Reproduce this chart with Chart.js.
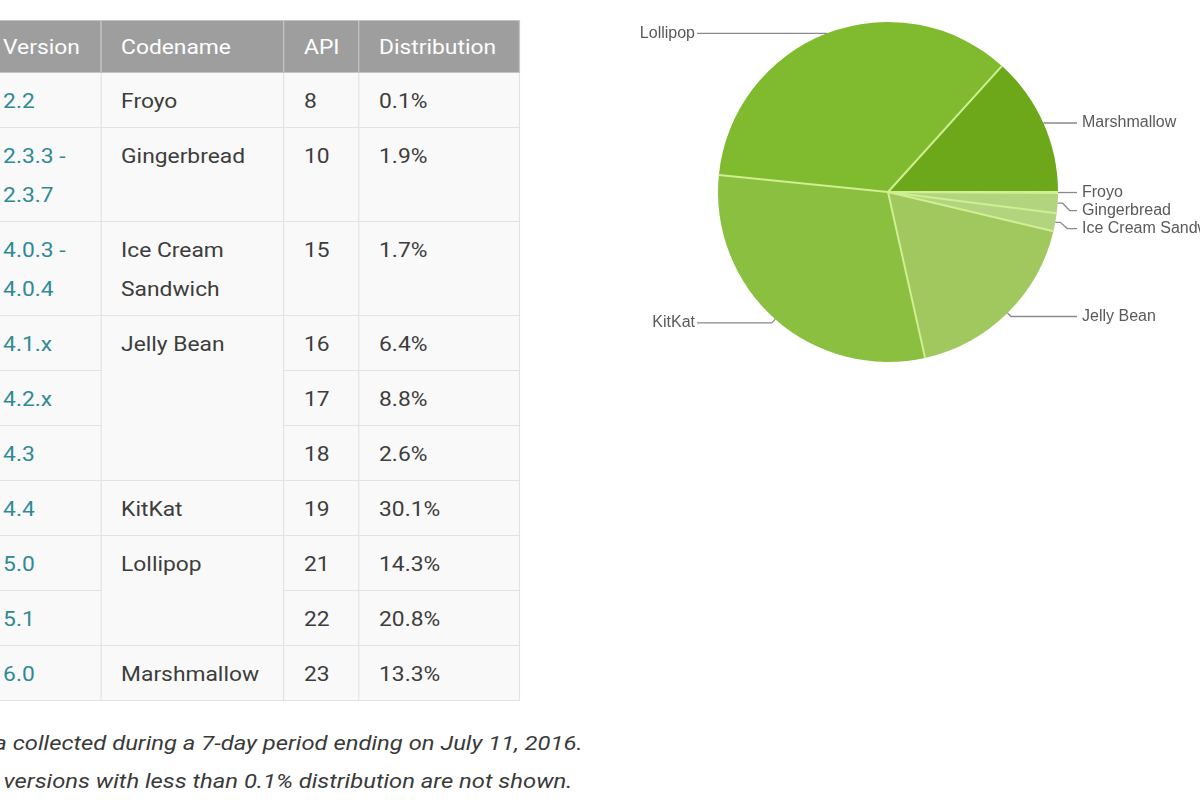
<!DOCTYPE html>
<html>
<head>
<meta charset="utf-8">
<script src="https://cdn.jsdelivr.net/npm/chart.js@4.4.1/dist/chart.umd.min.js"></script>
<style>
    html, body {
        margin: 0;
        padding: 0;
        width: 1200px;
        height: 800px;
        overflow: hidden;
        background: #ffffff;
        font-family: Roboto, "Noto Sans", sans-serif;
    }

    #tabela-wrap {
        position: absolute;
        left: -18px;
        top: 20px;
        transform: scaleX(1.14);
        transform-origin: left top;
    }

    table {
        border-collapse: collapse;
        font-size: 20px;
        color: #3d3d3d;
        table-layout: fixed;
    }

    th {
        background: #9e9e9e;
        color: #ffffff;
        font-weight: 400;
        text-align: left;
        padding: 7px 8px 5px 17.5px;
        line-height: 39px;
        border: 1px solid #c4c4c4;
    }

    td {
        background: #f9f9f9;
        padding: 8.5px 8px 6.5px 17.5px;
        line-height: 39px;
        vertical-align: top;
        border: 1px solid #e2e2e2;
    }

    td.versao {
        color: #2f8a96;
    }

    #nota {
        position: absolute;
        left: -41px;
        top: 724px;
        font-size: 20px;
        font-style: italic;
        line-height: 38px;
        color: #3a3a3a;
        transform: scaleX(1.19);
        transform-origin: left top;
        white-space: nowrap;
    }

    #grafico-wrap {
        position: absolute;
        left: 600px;
        top: 0;
        width: 600px;
        height: 400px;
    }
</style>
</head>
<body>

<div id="tabela-wrap">
    <table id="tabela-versoes">
        <colgroup>
            <col style="width: 103.5px">
            <col style="width: 160.5px">
            <col style="width: 65.8px">
            <col style="width: 141.2px">
        </colgroup>
        <thead>
            <tr><th>Version</th><th>Codename</th><th>API</th><th>Distribution</th></tr>
        </thead>
        <tbody></tbody>
    </table>
</div>

<div id="nota">
    Data collected during a 7-day period ending on July 11, 2016.<br>
    Any versions with less than 0.1% distribution are not shown.
</div>

<div id="grafico-wrap">
    <canvas id="grafico-pizza"></canvas>
</div>

<script>
// dados da tabela
const versoes = ["2.2", "2.3.3 -<br>2.3.7", "4.0.3 -<br>4.0.4", "4.1.x", "4.2.x", "4.3", "4.4", "5.0", "5.1", "6.0"];
const apis = [8, 10, 15, 16, 17, 18, 19, 21, 22, 23];
const distribuicao = [0.1, 1.9, 1.7, 6.4, 8.8, 2.6, 30.1, 14.3, 20.8, 13.3];
const codinomes = ["Froyo", "Gingerbread", "Ice Cream Sandwich", "Jelly Bean", "KitKat", "Lollipop", "Marshmallow"];
const linhasPorCodinome = [1, 1, 1, 3, 1, 2, 1];

// dados do grafico
const rotulosPizza = ["Froyo", "Gingerbread", "Ice Cream Sandwich", "Jelly Bean", "KitKat", "Lollipop", "Marshmallow"];
const valoresPizza = [0.1, 1.9, 1.7, 17.8, 30.1, 35.1, 13.3];

const coresPizza = ["#b3d47e", "#b3d47e", "#b3d47e", "#a0c85e", "#8bbf3f", "#7fba2f", "#6da81b"];

function renderizarTabela() {
    const tbody = document.querySelector("#tabela-versoes tbody");
    let html = "";
    let linha = 0;

    codinomes.forEach((nome, i) => {
        const span = linhasPorCodinome[i];
        for (let j = 0; j < span; j++) {
            html += "<tr>";
            html += `<td class="versao">${versoes[linha]}</td>`;
            if (j === 0) {
                html += `<td rowspan="${span}">${nome}</td>`;
            }
            html += `<td>${apis[linha]}</td>`;
            html += `<td>${distribuicao[linha].toFixed(1)}%</td>`;
            html += "</tr>";
            linha++;
        }
    });

    tbody.innerHTML = html;
}

// linhas claras entre as fatias (sem contorno externo)
const divisoriasPlugin = {
    id: "divisorias",
    afterDatasetsDraw(chart) {
        const ctx = chart.ctx;
        const arcos = chart.getDatasetMeta(0).data;

        ctx.save();
        ctx.strokeStyle = "#cfef92";
        ctx.lineWidth = 2;
        arcos.forEach(arco => {
            const { x, y, startAngle, outerRadius } = arco.getProps(
                ["x", "y", "startAngle", "outerRadius"], true
            );
            ctx.beginPath();
            ctx.moveTo(x, y);
            ctx.lineTo(x + Math.cos(startAngle) * outerRadius, y + Math.sin(startAngle) * outerRadius);
            ctx.stroke();
        });
        ctx.restore();
    }
};

// rotulos com linhas de chamada
const rotulosPlugin = {
    id: "rotulos",
    afterDatasetsDraw(chart) {
        const ctx = chart.ctx;
        const arcos = chart.getDatasetMeta(0).data;
        const direita = [];
        const esquerda = [];

        arcos.forEach((arco, i) => {
            const { x, y, startAngle, endAngle, outerRadius } = arco.getProps(
                ["x", "y", "startAngle", "endAngle", "outerRadius"], true
            );
            const meio = (startAngle + endAngle) / 2;
            // cotovelo so para as fatias de baixo
            const desvio = Math.sin(meio) > 0.3 ? 5 : 0;
            const item = {
                texto: rotulosPizza[i],
                cx: x,
                raio: outerRadius,
                px: x + Math.cos(meio) * outerRadius,
                py: y + Math.sin(meio) * outerRadius,
                ex: x + Math.cos(meio) * (outerRadius + desvio),
                ey: y + Math.sin(meio) * (outerRadius + desvio)
            };
            if (Math.cos(meio) >= 0) {
                direita.push(item);
            } else {
                esquerda.push(item);
            }
        });

        direita.sort((a, b) => a.ey - b.ey);
        let anterior = -Infinity;
        direita.forEach(item => {
            item.ly = Math.max(item.ey, anterior + 18);
            anterior = item.ly;
        });
        esquerda.forEach(item => {
            item.ly = item.ey;
        });

        ctx.save();
        ctx.strokeStyle = "#8a8a8a";
        ctx.lineWidth = 1.3;
        ctx.fillStyle = "#5a5a5a";
        ctx.font = '16px "Liberation Sans", Arial, sans-serif';
        ctx.textBaseline = "middle";

        direita.forEach(item => {
            const tx = item.cx + item.raio + 24;
            ctx.beginPath();
            ctx.moveTo(item.px, item.py);
            if (Math.abs(item.ly - item.ey) > 0.5) {
                ctx.lineTo(item.px + 5, item.py);
                ctx.lineTo(item.px + 12, item.ly);
            } else {
                ctx.lineTo(item.ex, item.ly);
            }
            ctx.lineTo(tx - 5, item.ly);
            ctx.stroke();
            ctx.textAlign = "left";
            ctx.fillText(item.texto, tx, item.ly);
        });

        esquerda.forEach(item => {
            const tx = item.cx - item.raio - 23;
            ctx.beginPath();
            ctx.moveTo(item.px, item.py);
            ctx.lineTo(item.ex, item.ly);
            ctx.lineTo(tx + 2, item.ly);
            ctx.stroke();
            ctx.textAlign = "right";
            ctx.fillText(item.texto, tx, item.ly);
        });

        ctx.restore();
    }
};

function renderizarGrafico() {
    const ctx = document.getElementById("grafico-pizza");

    new Chart(ctx, {
        type: "pie",
        data: {
            labels: rotulosPizza,
            datasets: [{
                data: valoresPizza,
                backgroundColor: coresPizza,
                borderWidth: 0,
                hoverOffset: 0
            }]
        },
        options: {
            responsive: true,
            maintainAspectRatio: false,
            animation: false,
            rotation: 90,
            events: [],
            layout: {
                padding: { left: 118, right: 142, top: 22, bottom: 38 }
            },
            plugins: {
                legend: { display: false },
                tooltip: { enabled: false }
            }
        },
        plugins: [divisoriasPlugin, rotulosPlugin]
    });
}

renderizarTabela();
renderizarGrafico();
</script>
</body>
</html>
